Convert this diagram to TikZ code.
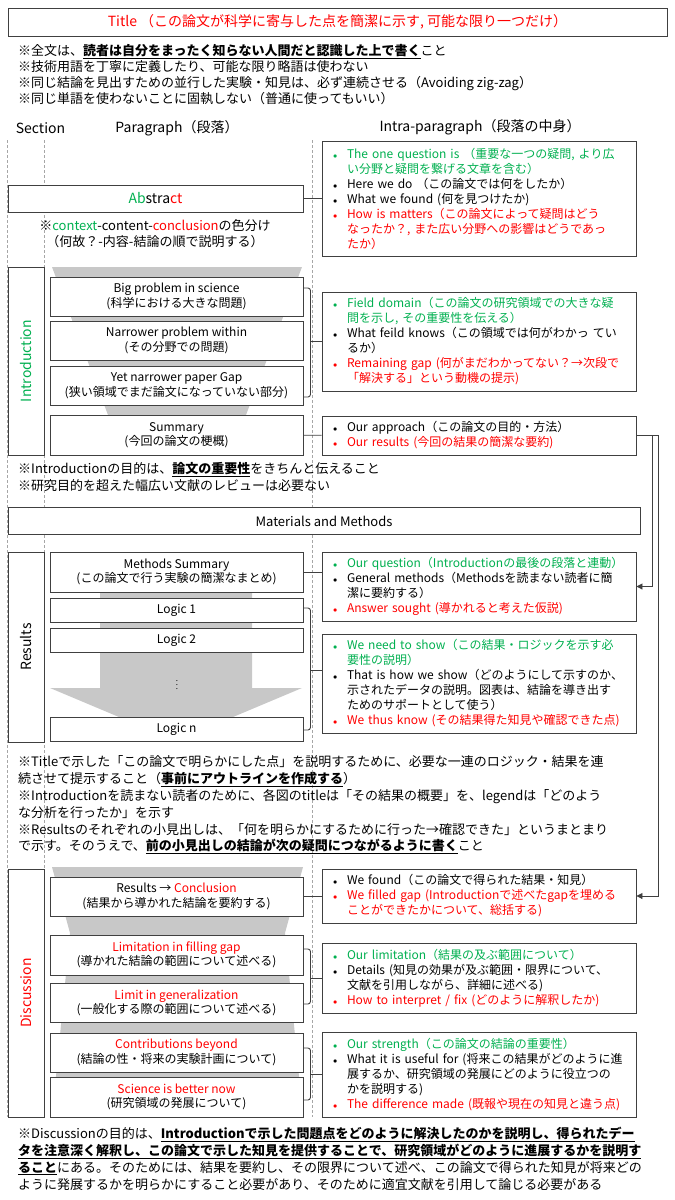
\documentclass[tikz,border=0pt]{standalone}
\usepackage{fontspec}
\setmainfont{Noto Sans CJK JP}
\usetikzlibrary{arrows.meta}

\definecolor{grn}{HTML}{00B050}
\definecolor{rd}{HTML}{FF0000}
\definecolor{edge}{HTML}{404040}
\definecolor{funnel}{HTML}{C8C8C8}
\definecolor{guidegray}{HTML}{A6A6A6}

% bullet line and continuation line
\newcommand{\bul}[2]{\mbox{\color{#1}\makebox[18pt][l]{\hspace{4pt}$\scriptstyle\bullet$}#2}}
\newcommand{\cnt}[2]{\mbox{\color{#1}\hspace*{18pt}#2}}
\newcommand{\ubf}[1]{\underline{\textbf{#1}}}

\begin{document}
\begin{tikzpicture}[
        x=1pt, y=-1pt,
        >={Triangle[length=6pt,width=6pt]},
        boxline/.style={draw=edge, line width=0.9pt},
        pbox/.style={
            boxline,
            fill=white,
            minimum width=253pt,
            minimum height=39pt,
            align=center,
            inner sep=0pt,
            font=\fontsize{12}{14.5}\selectfont
        },
        rbox/.style={
            boxline,
            fill=white,
            text width=300pt,
            inner xsep=7pt,
            inner ysep=0pt,
            align=left,
            font=\fontsize{12}{15}\selectfont
        },
        sbox/.style={
            boxline,
            fill=white,
            rotate=90,
            minimum height=36pt,
            inner sep=0pt,
            font=\fontsize{14}{16}\selectfont
        },
        head/.style={font=\fontsize{14}{16}\selectfont, inner sep=0pt},
        note/.style={anchor=west, align=left, inner sep=0pt, font=\fontsize{13}{16.8}\selectfont},
        link/.style={draw=edge, line width=0.9pt},
        brk/.style={link, rounded corners=2.5pt},
        guide/.style={draw=guidegray, line width=0.6pt, dash pattern=on 3pt off 2pt}
    ]
    \useasboundingbox (0,0) rectangle (675,1200);

    % column guides
    \foreach \gx in {7.5,44,312}
        \draw[guide] (\gx,140) -- (\gx,1117);

    % grey funnels
    \fill[funnel] (52,267) -- (302,267) -- (246,415) -- (108,415) -- cycle;
    \fill[funnel] (100,592) -- (252,592) -- (252,688) -- (302,688) -- (176,741) -- (50,688) -- (100,688) -- cycle;
    \fill[funnel] (52,867) -- (303,867) -- (285,933) -- (303,1117) -- (52,1117) -- (70,933) -- cycle;

    % title and general notes
    \node[boxline, minimum width=659pt, minimum height=28pt, text=rd, font=\fontsize{14}{16}\selectfont] (title) at (337.5,22) {Title （この論文が科学に寄与した点を簡潔に示す, 可能な限り一つだけ）};
    \node[note, font=\fontsize{13}{16.3}\selectfont] (n-top) at (18,74.5) {※全文は、\ubf{読者は自分をまったく知らない人間だと認識した上で書く}こと\\
        ※技術用語を丁寧に定義したり、可能な限り略語は使わない\\
        ※同じ結論を見出すための並行した実験・知見は、必ず連続させる（Avoiding zig-zag）\\
        ※同じ単語を使わないことに固執しない（普通に使ってもいい）};

    % column heads
    \node[head] (h-sec) at (40.5,128) {Section};
    \node[head] (h-par) at (177,128) {Paragraph（段落）};
    \node[head] (h-intra) at (480,127) {Intra-paragraph（段落の中身）};

    % Abstract
    \node[boxline, fill=white, minimum width=295pt, minimum height=27pt, font=\fontsize{14}{16}\selectfont] (abs) at (155.5,198.5) {\textcolor{grn}{Ab}stra\textcolor{rd}{ct}};
    \node[align=center, inner sep=0pt, font=\fontsize{13}{16}\selectfont] (abs-note) at (155,234) {※\textcolor{grn}{context}-content-\textcolor{rd}{conclusion}の色分け\\（何故？-内容-結論の順で説明する）};
    \node[rbox, minimum height=115pt] (abs-r) at (479,198.5) {\bul{grn}{The one question is （重要な一つの疑問, より広}\\
        \cnt{grn}{い分野と疑問を繋げる文章を含む）}\\
        \bul{black}{Here we do （この論文では何をしたか）}\\
        \bul{black}{What we found (何を見つけたか)}\\
        \bul{rd}{How is matters（この論文によって疑問はどう}\\
        \cnt{rd}{なったか？, また広い分野への影響はどうであっ}\\
        \cnt{rd}{たか）}};
    \draw[link] (abs) -- (abs-r);

    % Introduction
    \node[sbox, minimum width=188pt, text=grn] (intro) at (26,361) {Introduction};
    \node[pbox] (big) at (176.5,296.5) {Big problem in science\\(科学における大きな問題)};
    \node[pbox] (narrow) at (176.5,340.5) {Narrower problem within\\(その分野での問題)};
    \node[pbox] (yet) at (176.5,385.5) {Yet narrower paper Gap\\(狭い領域でまだ論文になっていない部分)};
    \node[pbox, minimum height=40pt] (summ) at (176.5,435) {Summary\\(今回の論文の梗概)};
    \node[rbox, minimum height=99pt] (intro-r1) at (479,341.5) {\bul{grn}{Field domain（この論文の研究領域での大きな疑}\\
        \cnt{grn}{問を示し, その重要性を伝える）}\\
        \bul{black}{What feild knows（この領域では何がわかっ てい}\\
        \cnt{black}{るか）}\\
        \bul{rd}{Remaining gap (何がまだわかってない？→次段で}\\
        \cnt{rd}{「解決する」という動機の提示)}};
    \node[rbox, minimum height=39pt] (intro-r2) at (479,435.5) {\bul{black}{Our approach（この論文の目的・方法）}\\
        \bul{rd}{Our results (今回の結果の簡潔な要約)}};
    \draw[brk] ([yshift=8.5pt]big.east) -- ++(7,0) -- ([xshift=7pt,yshift=-11.5pt]yet.east) -- ([yshift=-11.5pt]yet.east);
    \coordinate (t-intro) at (310,341.5);
    \draw[link] (t-intro) -- (intro-r1.west);
    \draw[link] (summ) -- (intro-r2);
    \node[note, font=\fontsize{13}{17}\selectfont] (n-intro) at (18,476.5) {※Introductionの目的は、\ubf{論文の重要性}をきちんと伝えること\\
        ※研究目的を超えた幅広い文献のレビューは必要ない};

    % Materials and Methods
    \node[boxline, fill=white, minimum width=632pt, minimum height=27pt, font=\fontsize{13}{15}\selectfont] (mm) at (324,521) {Materials and Methods};

    % Results
    \node[sbox, minimum width=190pt] (res) at (26,647) {Results};
    \node[pbox, minimum height=40pt] (meth) at (176.5,572) {Methods Summary\\(この論文で行う実験の簡潔なまとめ)};
    \node[pbox, minimum height=24pt] (log1) at (176.5,610) {Logic 1};
    \node[pbox, minimum height=24pt] (log2) at (176.5,640) {Logic 2};
    \node[font=\footnotesize, inner sep=0pt] (ldots) at (177,682) {$\vdots$};
    \node[pbox, minimum height=24pt] (logn) at (176.5,729) {Logic n};
    \node[rbox, minimum height=69pt] (res-r1) at (479,586.5) {\bul{grn}{Our question（Introductionの最後の段落と連動）}\\
        \bul{black}{General methods（Methodsを読まない読者に簡}\\
        \cnt{black}{潔に要約する）}\\
        \bul{rd}{Answer sought (導かれると考えた仮説)}};
    \node[rbox, minimum height=99pt] (res-r2) at (479,683.5) {\bul{grn}{We need to show（この結果・ロジックを示す必}\\
        \cnt{grn}{要性の説明）}\\
        \bul{black}{That is how we show（どのようにして示すのか、}\\
        \cnt{black}{示されたデータの説明。図表は、結論を導き出す}\\
        \cnt{black}{ためのサポートとして使う）}\\
        \bul{rd}{We thus know (その結果得た知見や確認できた点)}};
    \draw[link] (meth.east) -- (meth.east -| res-r1.west);
    \draw[brk] ([yshift=2pt]log1.east) -- ++(7,0) -- ([xshift=7pt,yshift=-1pt]logn.east) -- ([yshift=-1pt]logn.east);
    \coordinate (t-res) at (310,670);
    \draw[link] (t-res) -- (t-res -| res-r2.west);
    \node[note] (n-res) at (18,805) {※Titleで示した「この論文で明らかにした点」を説明するために、必要な一連のロジック・結果を連\\
        続させて提示すること（\ubf{事前にアウトラインを作成する}）\\
        ※Introductionを読まない読者のために、各図のtitleは「その結果の概要」を、legendは「どのよう\\
        な分析を行ったか」を示す\\
        ※Resultsのそれぞれの小見出しは、「何を明らかにするために行った→確認できた」というまとまり\\
        で示す。そのうえで、\ubf{前の小見出しの結論が次の疑問につながるように書く}こと};

    % Discussion
    \node[sbox, minimum width=248pt, text=rd] (disc) at (26,993) {Discussion};
    \node[pbox] (concl) at (176.5,896.5) {Results → \textcolor{rd}{Conclusion}\\(結果から導かれた結論を要約する)};
    \node[pbox, minimum height=40pt] (lgap) at (176.5,955) {\textcolor{rd}{Limitation in filling gap}\\(導かれた結論の範囲について述べる)};
    \node[pbox] (lgen) at (176.5,1003) {\textcolor{rd}{Limit in generalization}\\(一般化する際の範囲について述べる)};
    \node[pbox] (contr) at (176.5,1052.5) {\textcolor{rd}{Contributions beyond}\\(結論の性・将来の実験計画について)};
    \node[pbox, minimum height=40pt] (better) at (176.5,1097) {\textcolor{rd}{Science is better now}\\(研究領域の発展について)};
    \node[rbox, minimum height=54pt] (disc-r1) at (479,896) {\bul{black}{We found（この論文で得られた結果・知見）}\\
        \bul{rd}{We filled gap (Introductionで述べたgapを埋める}\\
        \cnt{rd}{ことができたかについて、総括する)}};
    \node[rbox, minimum height=70pt] (disc-r2) at (479,978) {\bul{grn}{Our limitation（結果の及ぶ範囲について）}\\
        \bul{black}{Details (知見の効果が及ぶ範囲・限界について、}\\
        \cnt{black}{文献を引用しながら、詳細に述べる)}\\
        \bul{rd}{How to interpret / fix (どのように解釈したか)}};
    \node[rbox, minimum height=85pt] (disc-r3) at (479,1074.5) {\bul{grn}{Our strength（この論文の結論の重要性）}\\
        \bul{black}{What it is useful for (将来この結果がどのように進}\\
        \cnt{black}{展するか、研究領域の発展にどのように役立つの}\\
        \cnt{black}{かを説明する)}\\
        \bul{rd}{The difference made (既報や現在の知見と違う点)}};
    \draw[link] (concl.east) -- (concl.east -| disc-r1.west);
    \draw[brk] ([yshift=6pt]lgap.east) -- ++(7,0) -- ([xshift=7pt,yshift=-1pt]lgen.east) -- ([yshift=-1pt]lgen.east);
    \coordinate (t-lim) at (310,978);
    \draw[link] (t-lim) -- (disc-r2.west);
    \draw[brk] ([yshift=4.5pt]contr.east) -- ++(7,0) -- ([xshift=7pt,yshift=-3pt]better.east) -- ([yshift=-3pt]better.east);
    \coordinate (t-str) at (310,1074.5);
    \draw[link] (t-str) -- (disc-r3.west);
    \node[note, font=\fontsize{13}{17}\selectfont] (n-disc) at (18,1158.5) {※Discussionの目的は、\ubf{Introductionで示した問題点をどのように解決したのかを説明し、得られたデー}\\
        \ubf{タを注意深く解釈し、この論文で示した知見を提供することで、研究領域がどのように進展するかを説明す}\\
        \ubf{ること}にある。そのためには、結果を要約し、その限界について述べ、この論文で得られた知見が将来どの\\
        ように発展するかを明らかにすること必要があり、そのために適宜文献を引用して論じる必要がある};

    % approach feeds Results and Discussion
    \draw[link, ->] (intro-r2.east) -- ++(16,0) |- (res-r1.east);
    \draw[link, ->] (intro-r2.east) -- ++(22,0) |- (disc-r1.east);

    \end{tikzpicture}
\end{document}
